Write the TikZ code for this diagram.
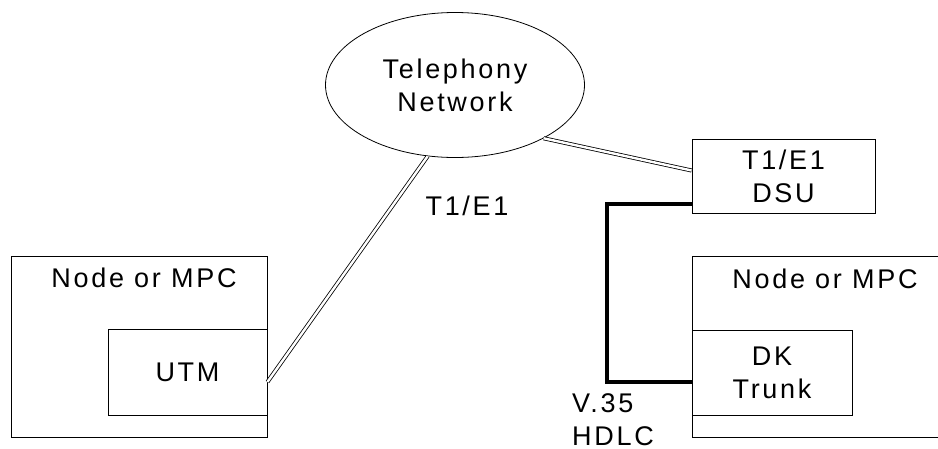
\documentclass[tikz,border=0pt]{standalone}
\usepackage{fontspec}
\setmainfont{Liberation Sans}[LetterSpace=10]
\usetikzlibrary{shapes}

\begin{document}
\begin{tikzpicture}[
        x=1pt, y=1pt,
        every node/.style={font=\fontsize{27}{33}\selectfont},
        box/.style={draw, line width=0.8pt, inner sep=0pt, align=center},
        cloud/.style={ellipse, draw, line width=0.8pt, inner sep=0pt, align=center},
        link/.style={double, double distance=2.4pt, line width=0.8pt},
        trunk/.style={line width=4pt},
        tag/.style={inner sep=0pt, align=left}
    ]
    \useasboundingbox (0,0) rectangle (938,-448);

    % Telephony network
    \node[cloud, minimum width=259, minimum height=145] (net) at (455,-85) {Telephony\\Network};

    % DSU
    \node[box, minimum width=183, minimum height=74] (dsu) at (783.5,-176.5) {T1/E1\\DSU};

    % Left node with UTM
    \node[box, minimum width=256, minimum height=181] (hostL) at (139,-346.5) {};
    \node[tag] (hostLtxt) at (144,-278) {Node or MPC};
    \node[box, minimum width=159, minimum height=86] (utm) at (187.5,-372) {UTM};

    % Right node with DK trunk
    \node[box, minimum width=253, minimum height=181] (hostR) at (818.5,-346.5) {};
    \node[tag] (hostRtxt) at (825,-279) {Node or MPC};
    \node[box, minimum width=160, minimum height=85] (dk) at (772,-372.5) {DK\\Trunk};

    % Links
    \draw[link] ([yshift=-10]utm.east) -- (net.249);
    \draw[link] (net.329) -- ([yshift=6]dsu.west);
    \draw[trunk] ([yshift=-27]dsu.west) -- ++(-85,0) |- ([yshift=-9.5]dk.west);

    % Line labels
    \node[tag] (e1) at (467,-206) {T1/E1};
    \node[tag, anchor=west] (v35) at (572,-420) {V.35\\HDLC};

\end{tikzpicture}
\end{document}
